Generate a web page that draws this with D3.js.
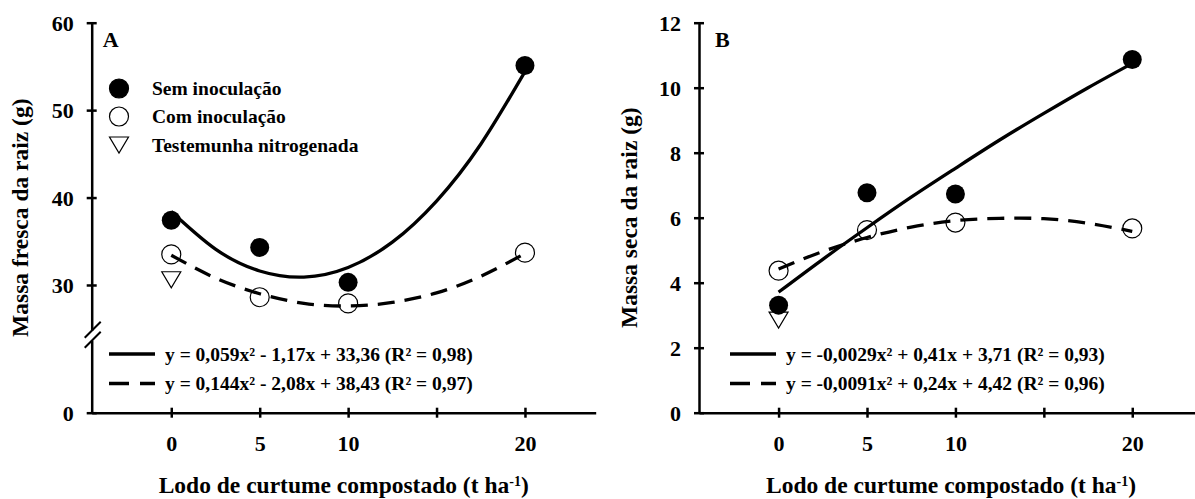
<!DOCTYPE html>
<html>
<head>
<meta charset="utf-8">
<script src="https://cdn.jsdelivr.net/npm/d3@7"></script>
<style>
  body { margin: 0; background: #fff; }
  svg { display: block; }
  text { font-family: "Liberation Serif", "Times New Roman", serif; font-weight: bold; fill: #000; }
</style>
</head>
<body>
<svg id="chart" width="1195" height="499"></svg>
<script>
// data
const doses = [0, 5, 10, 20];
const fitX = [0, 2.5, 5, 7.5, 10, 12.5, 15, 17.5, 20];
const xTicks = [0, 5, 10, 15, 20];
const xTickLabels = ['0', '5', '10', '', '20'];

const seriesNames = ['Sem inoculação', 'Com inoculação', 'Testemunha nitrogenada'];

// A - massa fresca
const semA = [37.4, 34.3, 30.3, 55.1];
const comA = [33.5, 28.6, 27.9, 33.7];
const testA = 30.6;
const fitSemA = [38.4, 34.1, 31.6, 30.9, 32.0, 34.9, 39.6, 46.1, 54.4];
const fitComA = [33.4, 30.8, 29.0, 27.9, 27.6, 28.0, 29.1, 31.0, 33.6];
const yTicksA = [0, 30, 40, 50, 60];
const eqA = ['y = 0,059x² - 1,17x + 33,36 (R² = 0,98)', 'y = 0,144x² - 2,08x + 38,43 (R² = 0,97)'];

// B - massa seca
const semB = [3.31, 6.77, 6.73, 10.87];
const comB = [4.37, 5.62, 5.85, 5.67];
const testB = 2.85;
const fitSemB = [3.71, 4.72, 5.69, 6.63, 7.52, 8.39, 9.21, 10.0, 10.75];
const fitComB = [4.42, 4.96, 5.39, 5.71, 5.91, 5.98, 5.97, 5.83, 5.58];
const yTicksB = [0, 2, 4, 6, 8, 10, 12];
const eqB = ['y = -0,0029x² + 0,41x + 3,71 (R² = 0,93)', 'y = -0,0091x² + 0,24x + 4,42 (R² = 0,96)'];

const svg = d3.select('#chart');
svg.append('rect').attr('width', 1195).attr('height', 499).attr('fill', '#fff');

const dash = '17,10';
const tri = 'M-9.5,-8L9.5,-8L0,8Z';

function panel(o) {
  const g = svg.append('g');

  const x = d3.scaleLinear().domain([-4.5, 24]).range([o.left, o.left + 504]);
  const y = o.y;

  // axes
  const ax = g.append('g').attr('transform', `translate(0,${y(0)})`)
    .call(d3.axisBottom(x).tickValues(xTicks).tickFormat((d, i) => xTickLabels[i])
      .tickSize(5).tickSizeOuter(0).tickPadding(18));
  ax.selectAll('.tick line').attr('y1', -5).attr('y2', 5);

  const ay = g.append('g').attr('transform', `translate(${o.left},0)`)
    .call(d3.axisLeft(y).tickValues(o.yTicks).tickSize(5).tickSizeOuter(0).tickPadding(13));
  ay.selectAll('.tick line').attr('x1', -5).attr('x2', 5);

  g.selectAll('.domain, .tick line').attr('stroke', '#000').attr('stroke-width', 2.5);
  g.selectAll('.tick text').style('font-family', '"Liberation Serif", "Times New Roman", serif')
    .style('font-weight', 'bold').attr('font-size', 22);
  ay.selectAll('.tick text').attr('dy', '0.34em');

  if (o.axisBreak) {
    const yb = y(25);
    g.append('rect').attr('x', o.left - 4).attr('y', yb + 2).attr('width', 8).attr('height', 10).attr('fill', '#fff');
    [yb + 2, yb + 12].forEach(v => {
      g.append('line').attr('x1', o.left - 7).attr('y1', v + 7).attr('x2', o.left + 9).attr('y2', v - 9)
        .attr('stroke', '#000').attr('stroke-width', 2);
    });
  }

  // titles
  g.append('text').attr('x', x(x.domain()[0] + 14.25)).attr('y', 493).attr('text-anchor', 'middle')
    .attr('font-size', 23.5)
    .text('Lodo de curtume compostado (t ha')
    .append('tspan').attr('baseline-shift', 'super').attr('font-size', 14).text('-1')
    .select(function () { return this.parentNode; })
    .append('tspan').text(')');

  g.append('text').attr('transform', `translate(${o.left - o.titleOff},${(y.range()[0] + y.range()[y.range().length - 1]) / 2}) rotate(-90)`)
    .attr('text-anchor', 'middle').attr('font-size', 23.5).text(o.yTitle);

  g.append('text').attr('x', o.left + o.letterOff).attr('y', 47).attr('font-size', 22).text(o.letter);

  // markers
  g.append('path').attr('d', tri).attr('transform', `translate(${x(0)},${y(o.test)})`)
    .attr('fill', '#fff').attr('stroke', '#000').attr('stroke-width', 1.2);
  g.selectAll('.com').data(o.com).join('circle')
    .attr('cx', (d, i) => x(doses[i])).attr('cy', d => y(d)).attr('r', 9.5)
    .attr('fill', '#fff').attr('stroke', '#000').attr('stroke-width', 1.2);
  g.selectAll('.sem').data(o.sem).join('circle')
    .attr('cx', (d, i) => x(doses[i])).attr('cy', d => y(d)).attr('r', 9.5).attr('fill', '#000');

  // fitted curves
  const line = d3.line().x((d, i) => x(fitX[i])).y(d => y(d)).curve(d3.curveNatural);
  g.append('path').attr('d', line(o.fitSem)).attr('fill', 'none').attr('stroke', '#000').attr('stroke-width', 3.3);
  g.append('path').attr('d', line(o.fitCom)).attr('fill', 'none').attr('stroke', '#000').attr('stroke-width', 3.3)
    .attr('stroke-dasharray', dash);

  // equation legend
  [0, 1].forEach(i => {
    const ly = 354 + i * 29.5;
    g.append('line').attr('x1', o.left + o.eqOff).attr('x2', o.left + o.eqOff + 46).attr('y1', ly).attr('y2', ly)
      .attr('stroke', '#000').attr('stroke-width', 3.5).attr('stroke-dasharray', i ? '20,11' : null);
    g.append('text').attr('x', o.left + o.eqOff + 56).attr('y', ly + 6.5).attr('font-size', 19.5).text(o.eq[i]);
  });
}

// panel A, broken y axis
panel({
  left: 91.7, letter: 'A', letterOff: 11, titleOff: 64, eqOff: 17.3,
  y: d3.scaleLinear().domain([0, 25, 60]).range([412.7, 328.7, 22.7]),
  yTicks: yTicksA, axisBreak: true,
  yTitle: 'Massa fresca da raiz (g)',
  sem: semA, com: comA, test: testA, fitSem: fitSemA, fitCom: fitComA, eq: eqA
});

panel({
  left: 699, letter: 'B', letterOff: 16, titleOff: 62, eqOff: 31,
  y: d3.scaleLinear().domain([0, 12]).range([412.7, 22.7]),
  yTicks: yTicksB, axisBreak: false,
  yTitle: 'Massa seca da raiz (g)',
  sem: semB, com: comB, test: testB, fitSem: fitSemB, fitCom: fitComB, eq: eqB
});

// symbol legend (panel A)
const leg = svg.append('g');
seriesNames.forEach((name, i) => {
  const cy = [88.5, 116.5, 145][i];
  if (i === 2) {
    leg.append('path').attr('d', tri).attr('transform', `translate(119,${cy})`)
      .attr('fill', '#fff').attr('stroke', '#000').attr('stroke-width', 1.2);
  } else {
    leg.append('circle').attr('cx', 119).attr('cy', cy).attr('r', 9.5)
      .attr('fill', i ? '#fff' : '#000').attr('stroke', '#000').attr('stroke-width', 1.2);
  }
  leg.append('text').attr('x', 152).attr('y', cy + 6.5).attr('font-size', 19.5).text(name);
});
</script>
</body>
</html>
